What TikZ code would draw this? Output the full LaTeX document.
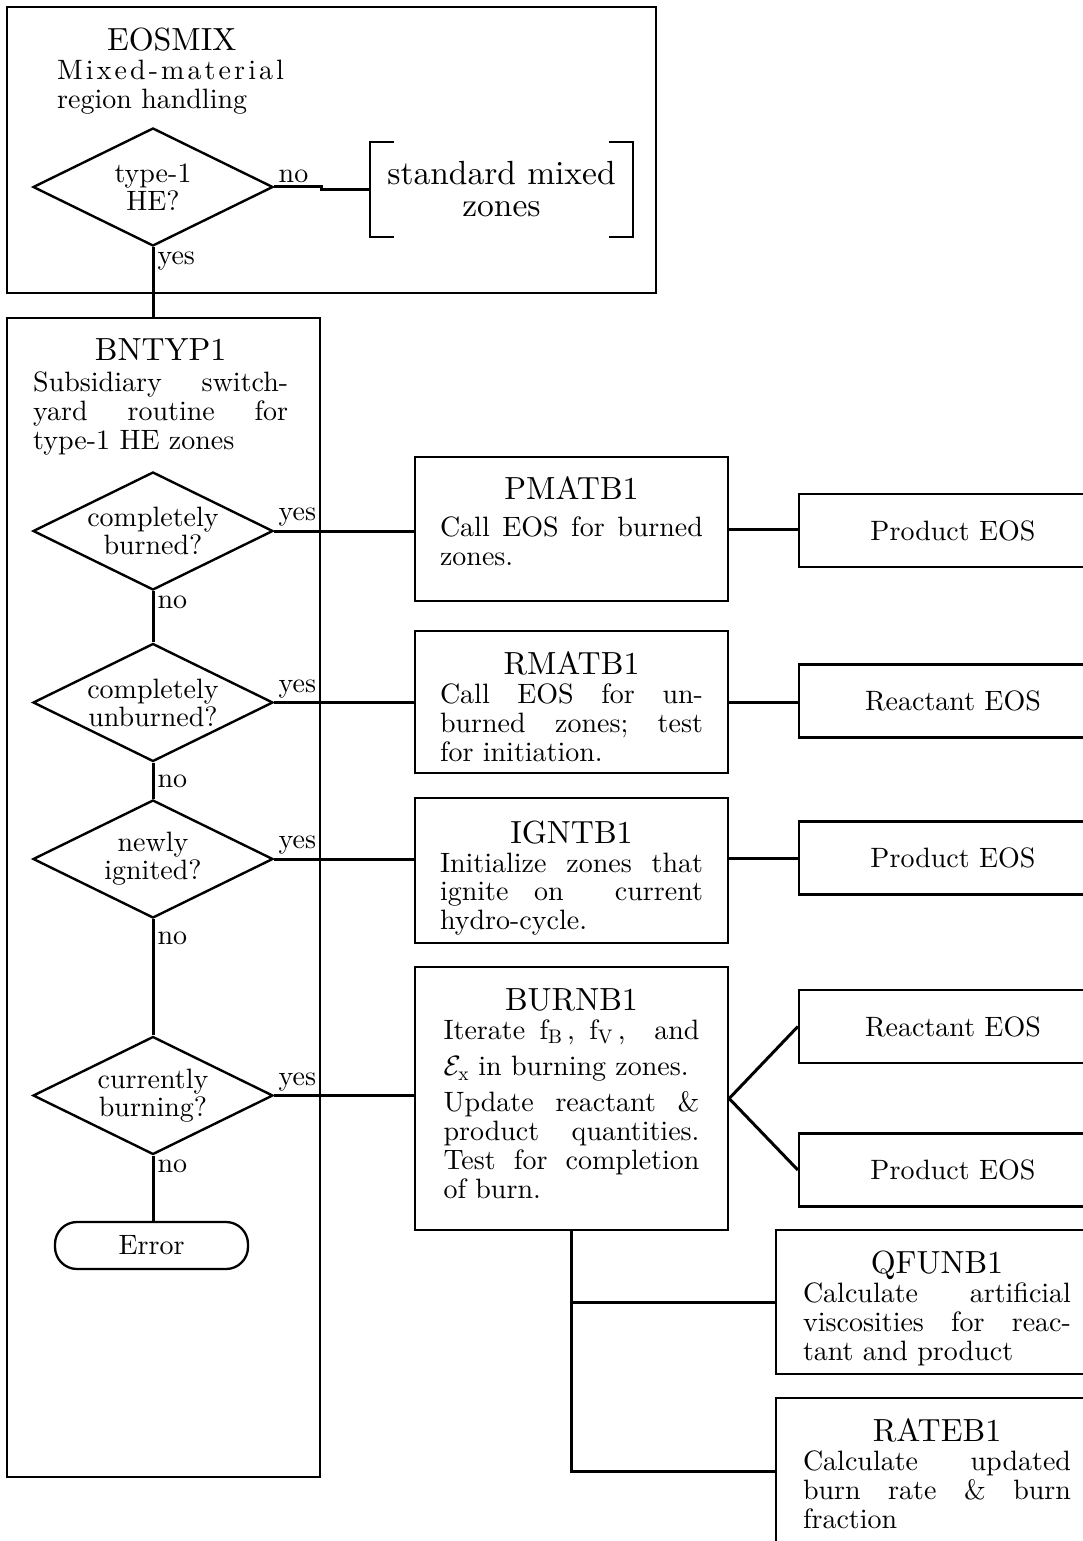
\RequirePackage{fix-cm}
\documentclass[tikz,border=0pt]{standalone}
\usepackage{fontspec}
\setmainfont{lmroman10-regular.otf}
\usetikzlibrary{
    shapes.geometric,
    positioning
}
\newcommand{\boxtitle}[1]{{\centering\fontsize{32}{36}\selectfont #1\par}}
\tikzset{
    outerbox/.style={draw, line width=2.3pt, inner sep=0pt},
    proc/.style={draw, line width=2.3pt, inner sep=0pt, minimum width=313pt},
    eosbox/.style={draw, line width=2.3pt, inner sep=0pt, minimum width=308pt, minimum height=73pt},
    decision/.style={draw, diamond, aspect=2, line width=2.4pt, inner sep=0pt,
        minimum width=240pt, minimum height=118pt, align=center, font=\fontsize{28}{28}\selectfont},
    txt/.style={inner sep=0pt, align=justify, font=\fontsize{28}{29}\selectfont},
    conn/.style={line width=3pt},
    bracket/.style={line width=2.3pt},
    lblup/.style={anchor=south west, inner sep=3pt},
    lbldown/.style={anchor=north west, inner sep=3pt}
}

\begin{document}
\begin{tikzpicture}[x=1pt, y=-1pt, font=\fontsize{28}{29}\selectfont]
    \useasboundingbox (0,0) rectangle (1083,1541);

    \node[outerbox, minimum width=649pt, minimum height=286pt] (eosmix) at (331.5,150) {};
    \node[txt, align=left, text width=229pt, anchor=north west] (eosmixtxt) at (57,28)
        {\boxtitle{EOSMIX}\mbox{\addfontfeature{LetterSpace=11}Mixed-material}\\region~handling};
    \node[decision] (he) at (153,187) {type-1\\HE?};
    \node[minimum width=263pt, minimum height=95pt, inner sep=0pt, align=center,
        font=\fontsize{33.5}{32}\selectfont] (stdmix) at (501.5,189.5) {standard mixed\\zones};
    \draw[bracket] ([xshift=24pt]stdmix.north west) -- (stdmix.north west)
        -- (stdmix.south west) -- ([xshift=24pt]stdmix.south west);
    \draw[bracket] ([xshift=-24pt]stdmix.north east) -- (stdmix.north east)
        -- (stdmix.south east) -- ([xshift=-24pt]stdmix.south east);

    \node[outerbox, minimum width=313pt, minimum height=1159pt] (bnt) at (163.5,897.5) {};
    \node[txt, text width=255pt, anchor=north west] (bnttxt) at (33,338)
        {\boxtitle{BNTYP1}\vspace{2pt}Subsidiary~switch-\linebreak yard~routine~for\linebreak type-1~HE~zones};
    \node[decision] (burned) at (153,531) {completely\\burned?};
    \node[decision] (unburned) at (153,702.5) {completely\\unburned?};
    \node[decision] (ignited) at (153,859) {newly\\ignited?};
    \node[decision] (burning) at (153,1095.5) {currently\\burning?};
    \node[draw, rounded corners=22pt, line width=2.3pt, minimum width=193pt, minimum height=47pt,
        inner sep=0pt] (err) at (151.5,1245.5) {Error};

    \node[proc, minimum height=144pt] (pmat) at (571.5,529) {};
    \node[txt, text width=263pt, below=21pt of pmat.north] (pmattxt)
        {\boxtitle{PMATB1}\vspace{8pt}Call~EOS~for~burned\linebreak zones.};
    \node[proc, minimum height=142pt] (rmat) at (571.5,702) {};
    \node[txt, text width=263pt, below=22pt of rmat.north] (rmattxt)
        {\boxtitle{RMATB1}Call~EOS~for~un-\linebreak burned~zones;~test\linebreak for~initiation.};
    \node[proc, minimum height=145pt] (ignt) at (571.5,870.5) {};
    \node[txt, text width=263pt, below=24pt of ignt.north, font=\fontsize{28}{28.5}\selectfont] (ignttxt)
        {\boxtitle{IGNTB1}Initialize~zones~that\linebreak ignite~on~~current\linebreak hydro-cycle.};
    \node[proc, minimum height=263pt] (burn) at (571.5,1098.5) {};
    \node[txt, text width=256pt, below=23pt of burn.north] (burntxt)
        {\boxtitle{BURNB1}\vspace{-8pt}{\fontsize{28}{36.5}\selectfont
        Iterate~f$_{\mathrm{B}}$\,,~f$_{\mathrm{V}}$\,,~~and\linebreak
        $\mathcal{E}_{\mathrm{x}}$~in~burning~zones.\par}\vspace{7pt}Update~reactant~\&\linebreak
        product~quantities.\linebreak Test~for~completion\linebreak of~burn.};

    \node[eosbox] (prodA) at (953,530.5) {Product EOS};
    \node[eosbox] (reactA) at (953,701) {Reactant EOS};
    \node[eosbox] (prodB) at (953,858) {Product EOS};
    \node[eosbox] (reactB) at (953,1026.5) {Reactant EOS};
    \node[eosbox] (prodC) at (953,1170) {Product EOS};

    \node[proc, minimum width=322pt, minimum height=144pt] (qfun) at (937,1302) {};
    \node[txt, text width=268pt, below=22pt of qfun.north] (qfuntxt)
        {\boxtitle{QFUNB1}Calculate~artificial\linebreak viscosities~for~reac-\linebreak tant~and~product};
    \node[proc, minimum width=322pt, minimum height=147pt] (rate) at (937,1471.5) {};
    \node[txt, text width=268pt, below=22pt of rate.north] (ratetxt)
        {\boxtitle{RATEB1}\rightskip=18pt Calculate~updated\linebreak burn~rate~\&~burn\linebreak fraction};

    \draw[conn] (he.east) node[lblup]{no} -- ++(47,0) |- (stdmix.west);
    \draw[conn] (he.south) node[lbldown]{yes} -- (he.south |- bnt.north);
    \draw[conn] (burned.east) node[lblup]{yes} -- (burned.east -| pmat.west);
    \draw[conn] (burned.south) node[lbldown]{no} -- (unburned.north);
    \draw[conn] (unburned.east) node[lblup]{yes} -- (unburned.east -| rmat.west);
    \draw[conn] (unburned.south) node[lbldown, yshift=-8pt]{no} -- (ignited.north);
    \draw[conn] (ignited.east) node[lblup]{yes} -- (ignited.east -| ignt.west);
    \draw[conn] (ignited.south) node[lbldown, yshift=-8pt]{no} -- (burning.north);
    \draw[conn] (burning.east) node[lblup]{yes} -- (burning.east -| burn.west);
    \draw[conn] (burning.south) node[lbldown]{no} -- (burning.south |- err.north);

    \draw[conn] (pmat.east) -- (pmat.east -| prodA.west);
    \draw[conn] (rmat.east) -- (rmat.east -| reactA.west);
    \draw[conn] (ignt.east |- prodB.west) -- (prodB.west);
    \draw[conn] (reactB.west) -- (burn.east) -- (prodC.west);
    \draw[conn] (burn.south) |- (rate.west);
    \draw[conn] (burn.south |- qfun.west) -- (qfun.west);
\end{tikzpicture}
\end{document}
